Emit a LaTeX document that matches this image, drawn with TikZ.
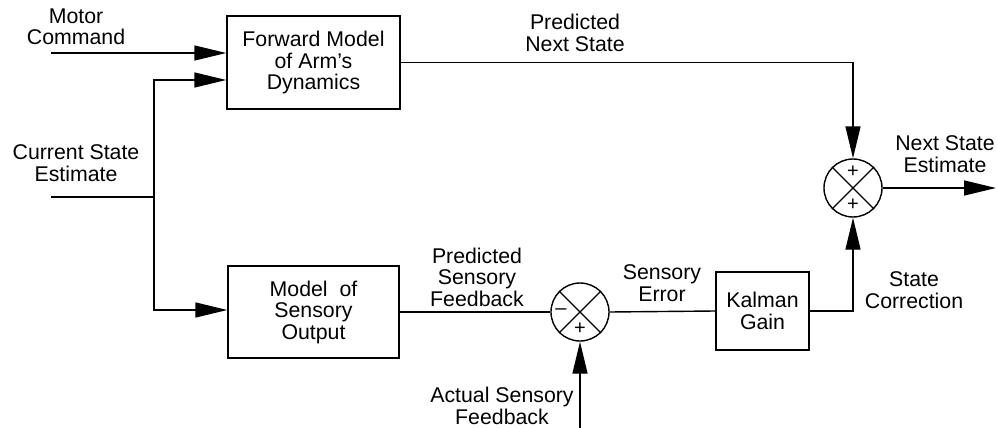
\documentclass[tikz,border=0pt]{standalone}
\usepackage{fontspec}
\setmainfont{Liberation Sans}
\usetikzlibrary{arrows.meta}
\begin{document}
\begin{tikzpicture}[x=1pt,y=-1pt,
  every node/.style={font=\fontsize{21.3}{21.5}\selectfont},
  blk/.style={draw,line width=1.4pt,inner sep=0pt,align=center},
  sumj/.style={draw,circle,line width=1.4pt,minimum size=58pt,inner sep=0pt},
  lbl/.style={align=center,inner sep=0pt},
  sgn/.style={font=\fontsize{20}{20}\selectfont,inner sep=0pt},
  conn/.style={line width=1.4pt},
  arr/.style={conn,-{Triangle[length=32pt,width=15pt]}}]
\useasboundingbox (0,0) rectangle (997,428);
% blocks
\node[blk,minimum width=173pt,minimum height=93pt] (fm) at (313.5,62.5) {Forward Model\\of Arm's\\Dynamics};
\node[blk,minimum width=171pt,minimum height=92pt] (mso) at (313.5,312) {Model\ \ of\\Sensory\\Output};
\node[blk,minimum width=93pt,minimum height=78pt] (kg) at (762.5,311) {Kalman\\Gain};
\node[sumj] (s1) at (853,188) {};
\node[sumj] (s2) at (580,312) {};
\draw[conn] (s1.north west) -- (s1.south east) (s1.north east) -- (s1.south west);
\draw[conn] (s2.north west) -- (s2.south east) (s2.north east) -- (s2.south west);
\node[sgn] (p1) at (853,172) {+};
\node[sgn] (p2) at (853,205) {+};
\node[sgn] (m3) at (561,312) {–};
\node[sgn] (p3) at (580,329) {+};
% free ends
\coordinate (mc) at (51,53);
\coordinate (cs) at (51,197);
\coordinate (jn) at (154,197);
\coordinate (out) at (996,188);
\coordinate (asf) at (580,428);
% connectors
\draw[arr] (mc) -- (mc -| fm.west);
\draw[conn] (cs) -- (jn);
\draw[arr] (jn) |- ([yshift=-17.5pt]fm.west);
\draw[arr] (jn) |- ([yshift=2pt]mso.west);
\draw[arr] (fm.east) -| (s1.north);
\draw[conn] (mso.east) -- (s2.west);
\draw[conn] (s2.east) -- (kg.west);
\draw[arr] (kg.east) -| (s1.south);
\draw[arr] (s1.east) -- (out);
\draw[arr] (asf) -- (s2.south);
% labels
\node[lbl] (lmc) at (76,27) {Motor\\Command};
\node[lbl] (lcs) at (76,163) {Current State\\Estimate};
\node[lbl] (lpns) at (575,33) {Predicted\\Next State};
\node[lbl] (lpsf) at (477,277) {Predicted\\Sensory\\Feedback};
\node[lbl] (lse) at (662,283) {Sensory\\Error};
\node[lbl] (lasf) at (502,406) {Actual Sensory\\Feedback};
\node[lbl] (lsc) at (914,290) {State\\Correction};
\node[lbl] (lnse) at (945,154) {Next State\\Estimate};
\end{tikzpicture}
\end{document}
